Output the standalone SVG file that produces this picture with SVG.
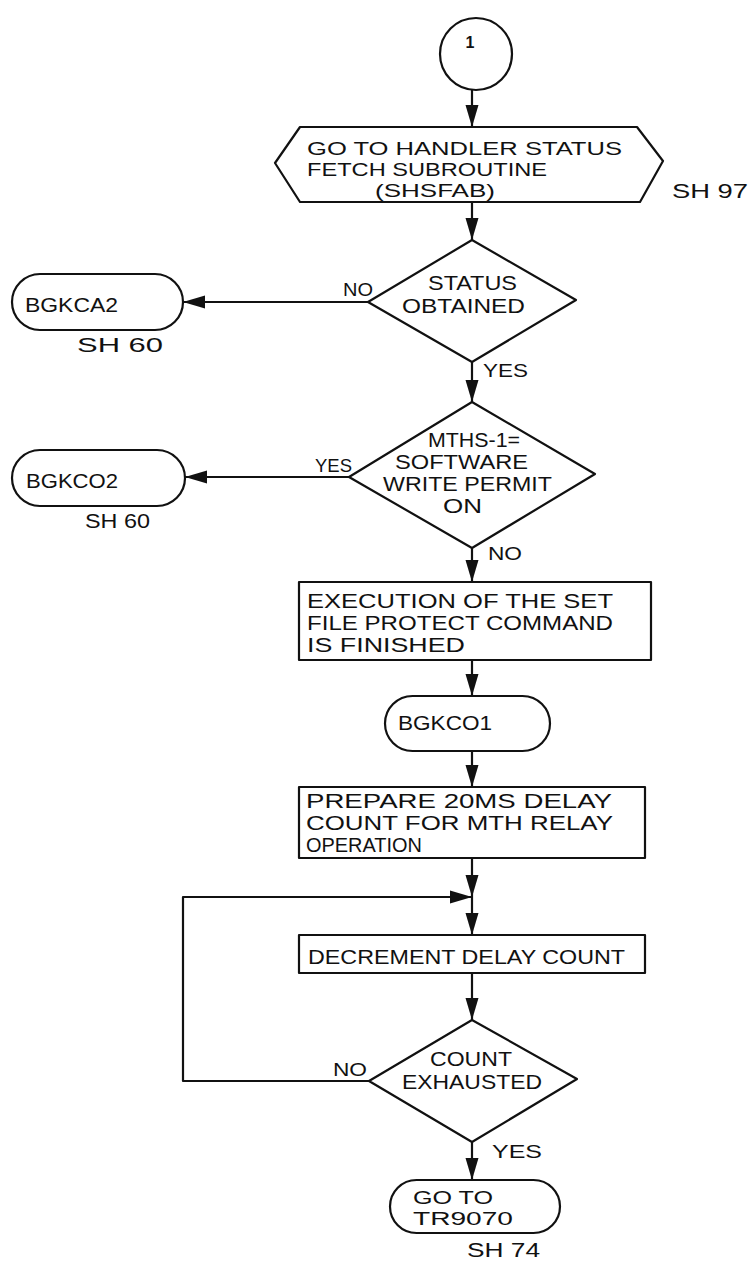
<svg xmlns="http://www.w3.org/2000/svg" width="750" height="1269" viewBox="0 0 750 1269">
<defs>
<style>
.s{fill:none;stroke:#111;stroke-width:2.2;stroke-linejoin:round}
.n{fill:#fff;stroke:#111;stroke-width:2.2;stroke-linejoin:round}
text{font-family:"Liberation Sans","DejaVu Sans",sans-serif;fill:#111}
.h{font-size:19px}.d{font-size:21px}.b{font-size:20px}.tm{font-size:21px}.tg{font-size:19px}.l{font-size:19px}.sh{font-size:20px}
</style>
<marker id="ah" markerUnits="userSpaceOnUse" markerWidth="22" markerHeight="14" refX="22" refY="7" orient="auto">
<path d="M0,0.5 L22,7 L0,13.5 Z" fill="#111"/>
</marker>
</defs>
<rect width="750" height="1269" fill="#fff"/>

<g id="connectors" class="s">
<line x1="472" y1="90" x2="472" y2="127" marker-end="url(#ah)"/>
<line x1="472" y1="202" x2="472" y2="240" marker-end="url(#ah)"/>
<line x1="368" y1="302" x2="183" y2="302" marker-end="url(#ah)"/>
<line x1="472" y1="362" x2="472" y2="402" marker-end="url(#ah)"/>
<line x1="349" y1="477" x2="185" y2="477" marker-end="url(#ah)"/>
<line x1="472" y1="548" x2="472" y2="582" marker-end="url(#ah)"/>
<line x1="472" y1="660" x2="472" y2="696" marker-end="url(#ah)"/>
<line x1="472" y1="751" x2="472" y2="787" marker-end="url(#ah)"/>
<line x1="472" y1="858" x2="472" y2="897" marker-end="url(#ah)"/>
<line x1="472" y1="897" x2="472" y2="935" marker-end="url(#ah)"/>
<line x1="472" y1="973" x2="472" y2="1020" marker-end="url(#ah)"/>
<polyline points="369,1081 183,1081 183,897 472,897" marker-end="url(#ah)"/>
<line x1="472" y1="1142" x2="472" y2="1180" marker-end="url(#ah)"/>
</g>

<g id="connector-labels">
<text class="l" x="343" y="296" textLength="30" lengthAdjust="spacingAndGlyphs">NO</text>
<text class="l" x="483" y="377" textLength="45" lengthAdjust="spacingAndGlyphs">YES</text>
<text class="l" x="315" y="472" textLength="37" lengthAdjust="spacingAndGlyphs">YES</text>
<text class="l" x="488" y="560" textLength="34" lengthAdjust="spacingAndGlyphs">NO</text>
<text class="l" x="333" y="1076" textLength="34" lengthAdjust="spacingAndGlyphs">NO</text>
<text class="l" x="492" y="1158" textLength="50" lengthAdjust="spacingAndGlyphs">YES</text>
</g>

<g id="start">
<circle class="n" cx="476" cy="54" r="36"/>
<text x="470" y="48" font-size="16" font-weight="bold" text-anchor="middle">1</text>
</g>

<g id="fetch">
<polygon class="n" points="275,163 300,127 637,127 663,161 640,202 300,202"/>
<text class="h" x="307" y="155" textLength="315" lengthAdjust="spacingAndGlyphs">GO TO HANDLER STATUS</text>
<text class="h" x="307" y="176" textLength="240" lengthAdjust="spacingAndGlyphs">FETCH SUBROUTINE</text>
<text class="h" x="375" y="197" textLength="120" lengthAdjust="spacingAndGlyphs">(SHSFAB)</text>
<text class="sh" x="672" y="198" textLength="76" lengthAdjust="spacingAndGlyphs">SH 97</text>
</g>

<g id="status-obtained">
<polygon class="n" points="472,240 576,300 472,362 368,302"/>
<text class="d" x="428" y="290" textLength="89" lengthAdjust="spacingAndGlyphs">STATUS</text>
<text class="d" x="402" y="313" textLength="123" lengthAdjust="spacingAndGlyphs">OBTAINED</text>
</g>

<g id="bgkca2">
<rect class="n" x="12" y="274" width="171" height="56" rx="28" ry="28"/>
<text class="tm" x="25" y="312" textLength="93" lengthAdjust="spacingAndGlyphs">BGKCA2</text>
<text class="sh" x="77" y="352" textLength="86" lengthAdjust="spacingAndGlyphs">SH 60</text>
</g>

<g id="write-permit">
<polygon class="n" points="472,402 595,474 472,548 349,477"/>
<text class="d" x="428" y="447" textLength="92" lengthAdjust="spacingAndGlyphs">MTHS-1=</text>
<text class="d" x="395" y="469" textLength="133" lengthAdjust="spacingAndGlyphs">SOFTWARE</text>
<text class="d" x="383" y="491" textLength="169" lengthAdjust="spacingAndGlyphs">WRITE PERMIT</text>
<text class="d" x="443" y="513" textLength="39" lengthAdjust="spacingAndGlyphs">ON</text>
</g>

<g id="bgkco2">
<rect class="n" x="12" y="450" width="173" height="56" rx="28" ry="28"/>
<text class="tm" x="26" y="488" textLength="92" lengthAdjust="spacingAndGlyphs">BGKCO2</text>
<text class="sh" x="85" y="528" textLength="65" lengthAdjust="spacingAndGlyphs">SH 60</text>
</g>

<g id="execution-finished">
<rect class="n" x="299" y="582" width="352" height="78"/>
<text class="b" x="307" y="608" textLength="306" lengthAdjust="spacingAndGlyphs">EXECUTION OF THE SET</text>
<text class="b" x="307" y="630" textLength="306" lengthAdjust="spacingAndGlyphs">FILE PROTECT COMMAND</text>
<text class="b" x="307" y="652" textLength="158" lengthAdjust="spacingAndGlyphs">IS FINISHED</text>
</g>

<g id="bgkco1">
<rect class="n" x="385" y="696" width="165" height="55" rx="27.5" ry="27.5"/>
<text class="tm" x="398" y="730" textLength="94" lengthAdjust="spacingAndGlyphs">BGKCO1</text>
</g>

<g id="prepare-delay">
<rect class="n" x="299" y="787" width="346" height="71"/>
<text class="b" x="306" y="808" textLength="306" lengthAdjust="spacingAndGlyphs">PREPARE 20MS DELAY</text>
<text class="b" x="306" y="830" textLength="307" lengthAdjust="spacingAndGlyphs">COUNT FOR MTH RELAY</text>
<text class="b" x="306" y="852" textLength="116" lengthAdjust="spacingAndGlyphs">OPERATION</text>
</g>

<g id="decrement">
<rect class="n" x="299" y="935" width="346" height="38"/>
<text class="b" x="308" y="964" textLength="317" lengthAdjust="spacingAndGlyphs">DECREMENT DELAY COUNT</text>
</g>

<g id="count-exhausted">
<polygon class="n" points="472,1020 577,1079 472,1142 369,1081"/>
<text class="d" x="430" y="1066" textLength="82" lengthAdjust="spacingAndGlyphs">COUNT</text>
<text class="d" x="402" y="1089" textLength="140" lengthAdjust="spacingAndGlyphs">EXHAUSTED</text>
</g>

<g id="goto-tr9070">
<rect class="n" x="390" y="1180" width="170" height="53" rx="26.5" ry="26.5"/>
<text class="tg" x="413" y="1204" textLength="80" lengthAdjust="spacingAndGlyphs">GO TO</text>
<text class="tg" x="413" y="1225" textLength="100" lengthAdjust="spacingAndGlyphs">TR9070</text>
<text class="sh" x="467" y="1257" textLength="73" lengthAdjust="spacingAndGlyphs">SH 74</text>
</g>
</svg>
